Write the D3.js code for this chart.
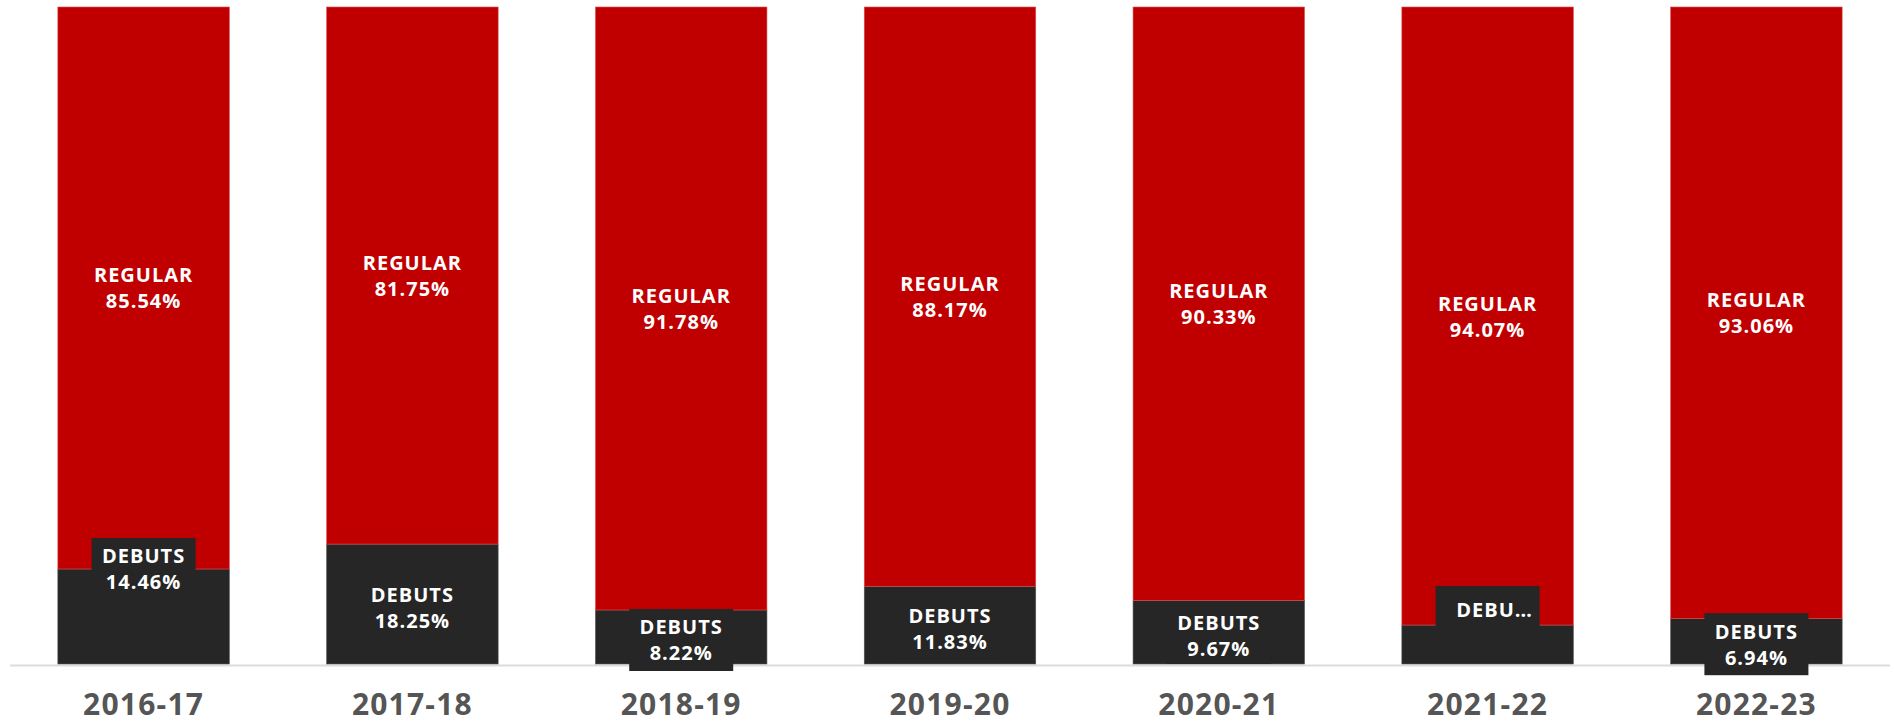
<!DOCTYPE html>
<html>
<head>
<meta charset="utf-8">
<script src="https://cdn.jsdelivr.net/npm/d3@7"></script>
<style>
  body { margin: 0; background: #fff; }
  svg text { font-family: "Open Sans", "DejaVu Sans", sans-serif; font-weight: 700; }
</style>
</head>
<body>
<div id="chart"></div>
<script>
// seasons and shares (percent)
var seasons = ["2016-17", "2017-18", "2018-19", "2019-20", "2020-21", "2021-22", "2022-23"];
var debuts = [14.46, 18.25, 8.22, 11.83, 9.67, 5.93, 6.94];
var regular = [85.54, 81.75, 91.78, 88.17, 90.33, 94.07, 93.06];

var width = 1894, height = 724;

var svg = d3.select("#chart").append("svg")
    .attr("width", width)
    .attr("height", height);

var x = d3.scaleBand()
    .domain(seasons)
    .range([10, 1890])
    .paddingInner(0.362)
    .paddingOuter(0.178);

var y = d3.scaleLinear()
    .domain([0, 100])
    .range([664, 7]);

var data = seasons.map(function(s, i) {
    return { season: s, debuts: debuts[i], regular: regular[i] };
});

// baseline
svg.append("line")
    .attr("x1", 10).attr("x2", 1890)
    .attr("y1", y(0) + 1.5).attr("y2", y(0) + 1.5)
    .attr("stroke", "#dcdcdc")
    .attr("stroke-width", 2);

var bars = svg.selectAll("g.bar")
    .data(data)
  .enter().append("g")
    .attr("class", "bar");

// debuts segment (bottom)
bars.append("rect")
    .attr("x", function(d) { return x(d.season); })
    .attr("width", x.bandwidth())
    .attr("y", function(d) { return y(d.debuts); })
    .attr("height", function(d) { return y(0) - y(d.debuts); })
    .attr("fill", "#262626")
    .attr("stroke", "#555")
    .attr("stroke-width", 0.6);

// regular segment (top)
bars.append("rect")
    .attr("x", function(d) { return x(d.season); })
    .attr("width", x.bandwidth())
    .attr("y", function(d) { return y(d.debuts + d.regular); })
    .attr("height", function(d) { return y(d.debuts) - y(d.debuts + d.regular); })
    .attr("fill", "#c00000")
    .attr("stroke", "#e05050")
    .attr("stroke-width", 0.6);

function label(g, cx, cy, t) {
    return g.append("text")
        .attr("x", cx).attr("y", cy)
        .attr("text-anchor", "middle")
        .attr("dominant-baseline", "central")
        .attr("fill", "#fff")
        .attr("font-size", 20)
        .attr("letter-spacing", 1)
        .text(t);
}

// regular labels
bars.each(function(d) {
    var g = d3.select(this);
    var cx = x(d.season) + x.bandwidth() / 2;
    var cy = (y(d.debuts) + y(d.debuts + d.regular)) / 2;
    label(g, cx, cy - 13, "REGULAR");
    label(g, cx, cy + 13, d.regular.toFixed(2) + "%");
});

// debut labels, with a dark box behind them
var boxW = 104, boxH = 62;
bars.each(function(d) {
    var g = d3.select(this);
    var cx = x(d.season) + x.bandwidth() / 2;
    var top = y(d.debuts), bottom = y(0);
    var cy = (top + bottom) / 2 + 3;
    if (d.season == "2016-17") cy = top;   // label pushed up to the segment edge

    if (d.season == "2021-22") {
        // no room: single truncated line above the segment
        g.append("rect")
            .attr("x", cx - boxW / 2).attr("y", top - 39)
            .attr("width", boxW).attr("height", 41)
            .attr("fill", "#262626");
        label(g, cx + 7, top - 16, "DEBU\u2026");
        return;
    }

    var by = cy - boxH / 2;
    if (bottom - top >= boxH && d.season != "2016-17") {
        by = Math.min(by, bottom - boxH);
    }
    g.append("rect")
        .attr("x", cx - boxW / 2).attr("y", by)
        .attr("width", boxW).attr("height", boxH)
        .attr("fill", "#262626");
    label(g, cx, cy - 13, "DEBUTS");
    label(g, cx, cy + 13, d.debuts.toFixed(2) + "%");
});

// season axis
var axis = svg.append("g")
    .attr("transform", "translate(0," + (y(0) + 2) + ")")
    .call(d3.axisBottom(x).tickSize(0).tickPadding(28));
axis.select(".domain").remove();
axis.selectAll("text")
    .attr("fill", "#555")
    .attr("font-size", 30)
    .attr("font-family", "\"Open Sans\", sans-serif")
    .attr("font-weight", 700)
    .attr("letter-spacing", 1.2);
</script>
</body>
</html>
